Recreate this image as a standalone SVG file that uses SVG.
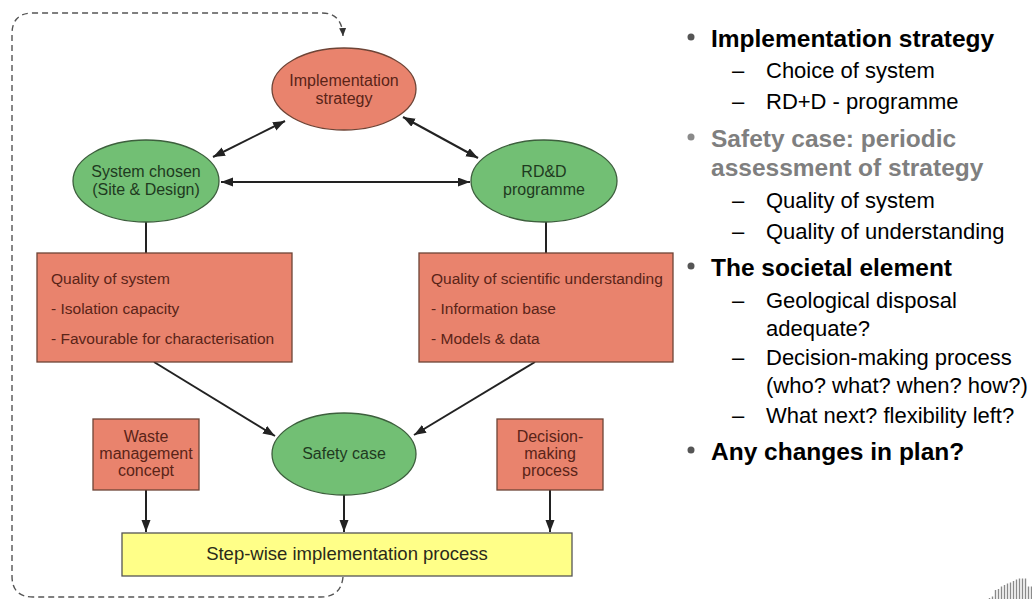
<svg xmlns="http://www.w3.org/2000/svg" width="1032" height="599" viewBox="0 0 1032 599">
<style>
.salmon{fill:#E9836D;stroke:#6e4436;stroke-width:1.3}
.green{fill:#72BF74;stroke:#3d5f3d;stroke-width:1.3}
.yellow{fill:#FFFF88;stroke:#555;stroke-width:1.3}
.t{font-family:"Liberation Sans",Arial,sans-serif}
.et{font-size:16px;text-anchor:middle}
.bt{font-size:15.5px}
.rt{fill:#5a2418}
.gt{fill:#1f3a1f}
.edge{stroke:#222;stroke-width:2;fill:none}
.dash{stroke:#555;stroke-width:1.4;fill:none;stroke-dasharray:6 4}
.h{font-size:24.5px;font-weight:bold;fill:#000}
.hg{font-size:24.5px;font-weight:bold;fill:#7f7f7f}
.s{font-size:22px;fill:#000}
.bar{stroke:#8a8a8a;stroke-width:1.4}
</style>
<defs>
<marker id="ah" markerUnits="userSpaceOnUse" markerWidth="13" markerHeight="10" refX="12" refY="4.5" orient="auto-start-reverse">
<path d="M0,0 L12,4.5 L0,9 z" fill="#222"/>
</marker>
<marker id="ahs" markerUnits="userSpaceOnUse" markerWidth="10" markerHeight="8" refX="8" refY="3.5" orient="auto">
<path d="M0,0 L8,3.5 L0,7 z" fill="#333"/>
</marker>
</defs>
<rect width="1032" height="599" fill="#fff"/>

<g id="connectors">
<path class="dash" d="M343,577 Q341,597 321,597 L33,597 Q12,597 12,576 L12,34 Q12,13 33,13 L322,13 Q342,13 343,36" marker-end="url(#ahs)"/>
<line class="edge" x1="213" y1="157" x2="285" y2="121" marker-start="url(#ah)" marker-end="url(#ah)"/>
<line class="edge" x1="403" y1="117" x2="478" y2="158" marker-start="url(#ah)" marker-end="url(#ah)"/>
<line class="edge" x1="221" y1="182" x2="470" y2="182" marker-start="url(#ah)" marker-end="url(#ah)"/>
<line class="edge" x1="146" y1="222" x2="146" y2="253"/>
<line class="edge" x1="546" y1="222" x2="546" y2="253"/>
<line class="edge" x1="154" y1="362" x2="275" y2="436" marker-end="url(#ah)"/>
<line class="edge" x1="535" y1="362" x2="414" y2="435" marker-end="url(#ah)"/>
<line class="edge" x1="146" y1="490" x2="146" y2="532" marker-end="url(#ah)"/>
<line class="edge" x1="344" y1="495" x2="344" y2="532" marker-end="url(#ah)"/>
<line class="edge" x1="550" y1="490" x2="550" y2="532" marker-end="url(#ah)"/>
</g>

<g id="implementation-strategy">
<ellipse class="salmon" cx="344" cy="89" rx="72" ry="41"/>
<text class="t et rt" x="344" y="86">Implementation</text>
<text class="t et rt" x="344" y="104">strategy</text>
</g>

<g id="system-chosen">
<ellipse class="green" cx="146" cy="181" rx="73" ry="41"/>
<text class="t et gt" x="146" y="177">System chosen</text>
<text class="t et gt" x="146" y="195">(Site &amp; Design)</text>
</g>

<g id="rdd-programme">
<ellipse class="green" cx="544" cy="181" rx="73" ry="41"/>
<text class="t et gt" x="544" y="177">RD&amp;D</text>
<text class="t et gt" x="544" y="195">programme</text>
</g>

<g id="quality-of-system">
<rect class="salmon" x="37" y="253" width="255" height="109"/>
<text class="t bt rt" x="51" y="284">Quality of system</text>
<text class="t bt rt" x="51" y="314">- Isolation capacity</text>
<text class="t bt rt" x="51" y="344">- Favourable for characterisation</text>
</g>

<g id="quality-of-understanding">
<rect class="salmon" x="419" y="253" width="254" height="109"/>
<text class="t bt rt" x="431" y="284">Quality of scientific understanding</text>
<text class="t bt rt" x="431" y="314">- Information base</text>
<text class="t bt rt" x="431" y="344">- Models &amp; data</text>
</g>

<g id="safety-case">
<ellipse class="green" cx="344" cy="454" rx="72" ry="41"/>
<text class="t et gt" x="344" y="459">Safety case</text>
</g>

<g id="waste-management-concept">
<rect class="salmon" x="93" y="419" width="106" height="71"/>
<text class="t et rt" x="146" y="442">Waste</text>
<text class="t et rt" x="146" y="459">management</text>
<text class="t et rt" x="146" y="476">concept</text>
</g>

<g id="decision-making-process">
<rect class="salmon" x="497" y="419" width="106" height="71"/>
<text class="t et rt" x="550" y="442">Decision-</text>
<text class="t et rt" x="550" y="459">making</text>
<text class="t et rt" x="550" y="476">process</text>
</g>

<g id="step-wise-implementation">
<rect class="yellow" x="122" y="533" width="450" height="43"/>
<text class="t" x="347" y="560" font-size="18.5" text-anchor="middle" fill="#2a2a1a">Step-wise implementation process</text>
</g>

<g id="bullets">
<circle cx="691" cy="37" r="3.5" fill="#555"/>
<text class="t h" x="711" y="47">Implementation strategy</text>
<text class="t s" x="732" y="78">–</text>
<text class="t s" x="766" y="78">Choice of system</text>
<text class="t s" x="732" y="109">–</text>
<text class="t s" x="766" y="109">RD+D - programme</text>
<circle cx="691" cy="137" r="3.5" fill="#8a8a8a"/>
<text class="t hg" x="711" y="147">Safety case: periodic</text>
<text class="t hg" x="711" y="176">assessment of strategy</text>
<text class="t s" x="732" y="208">–</text>
<text class="t s" x="766" y="208">Quality of system</text>
<text class="t s" x="732" y="239">–</text>
<text class="t s" x="766" y="239">Quality of understanding</text>
<circle cx="691" cy="266" r="3.5" fill="#555"/>
<text class="t h" x="711" y="276">The societal element</text>
<text class="t s" x="732" y="308">–</text>
<text class="t s" x="766" y="308">Geological disposal</text>
<text class="t s" x="766" y="336">adequate?</text>
<text class="t s" x="732" y="365">–</text>
<text class="t s" x="766" y="365">Decision-making process</text>
<text class="t s" x="766" y="393">(who? what? when? how?)</text>
<text class="t s" x="732" y="423">–</text>
<text class="t s" x="766" y="423">What next? flexibility left?</text>
<circle cx="691" cy="450" r="3.5" fill="#555"/>
<text class="t h" x="711" y="460">Any changes in plan?</text>
</g>

<g id="logo">
<line class="bar" x1="989.5" y1="598" x2="989.5" y2="599"/>
<line class="bar" x1="992.5" y1="596.5" x2="992.5" y2="599"/>
<line class="bar" x1="995.5" y1="590" x2="995.5" y2="599"/>
<line class="bar" x1="998.5" y1="589" x2="998.5" y2="599"/>
<line class="bar" x1="1001.5" y1="586.5" x2="1001.5" y2="599"/>
<line class="bar" x1="1004.5" y1="585" x2="1004.5" y2="599"/>
<line class="bar" x1="1007.5" y1="583.5" x2="1007.5" y2="599"/>
<line class="bar" x1="1010.5" y1="582.5" x2="1010.5" y2="599"/>
<line class="bar" x1="1013.5" y1="581" x2="1013.5" y2="599"/>
<line class="bar" x1="1016.5" y1="579.5" x2="1016.5" y2="599"/>
<line class="bar" x1="1019.5" y1="578.5" x2="1019.5" y2="599"/>
<line class="bar" x1="1022.5" y1="578.5" x2="1022.5" y2="599"/>
<line class="bar" x1="1025.5" y1="578.5" x2="1025.5" y2="599"/>
<line class="bar" x1="1028.5" y1="586.5" x2="1028.5" y2="599"/>
<line class="bar" x1="1031.5" y1="586.5" x2="1031.5" y2="599"/>
</g>
</svg>
